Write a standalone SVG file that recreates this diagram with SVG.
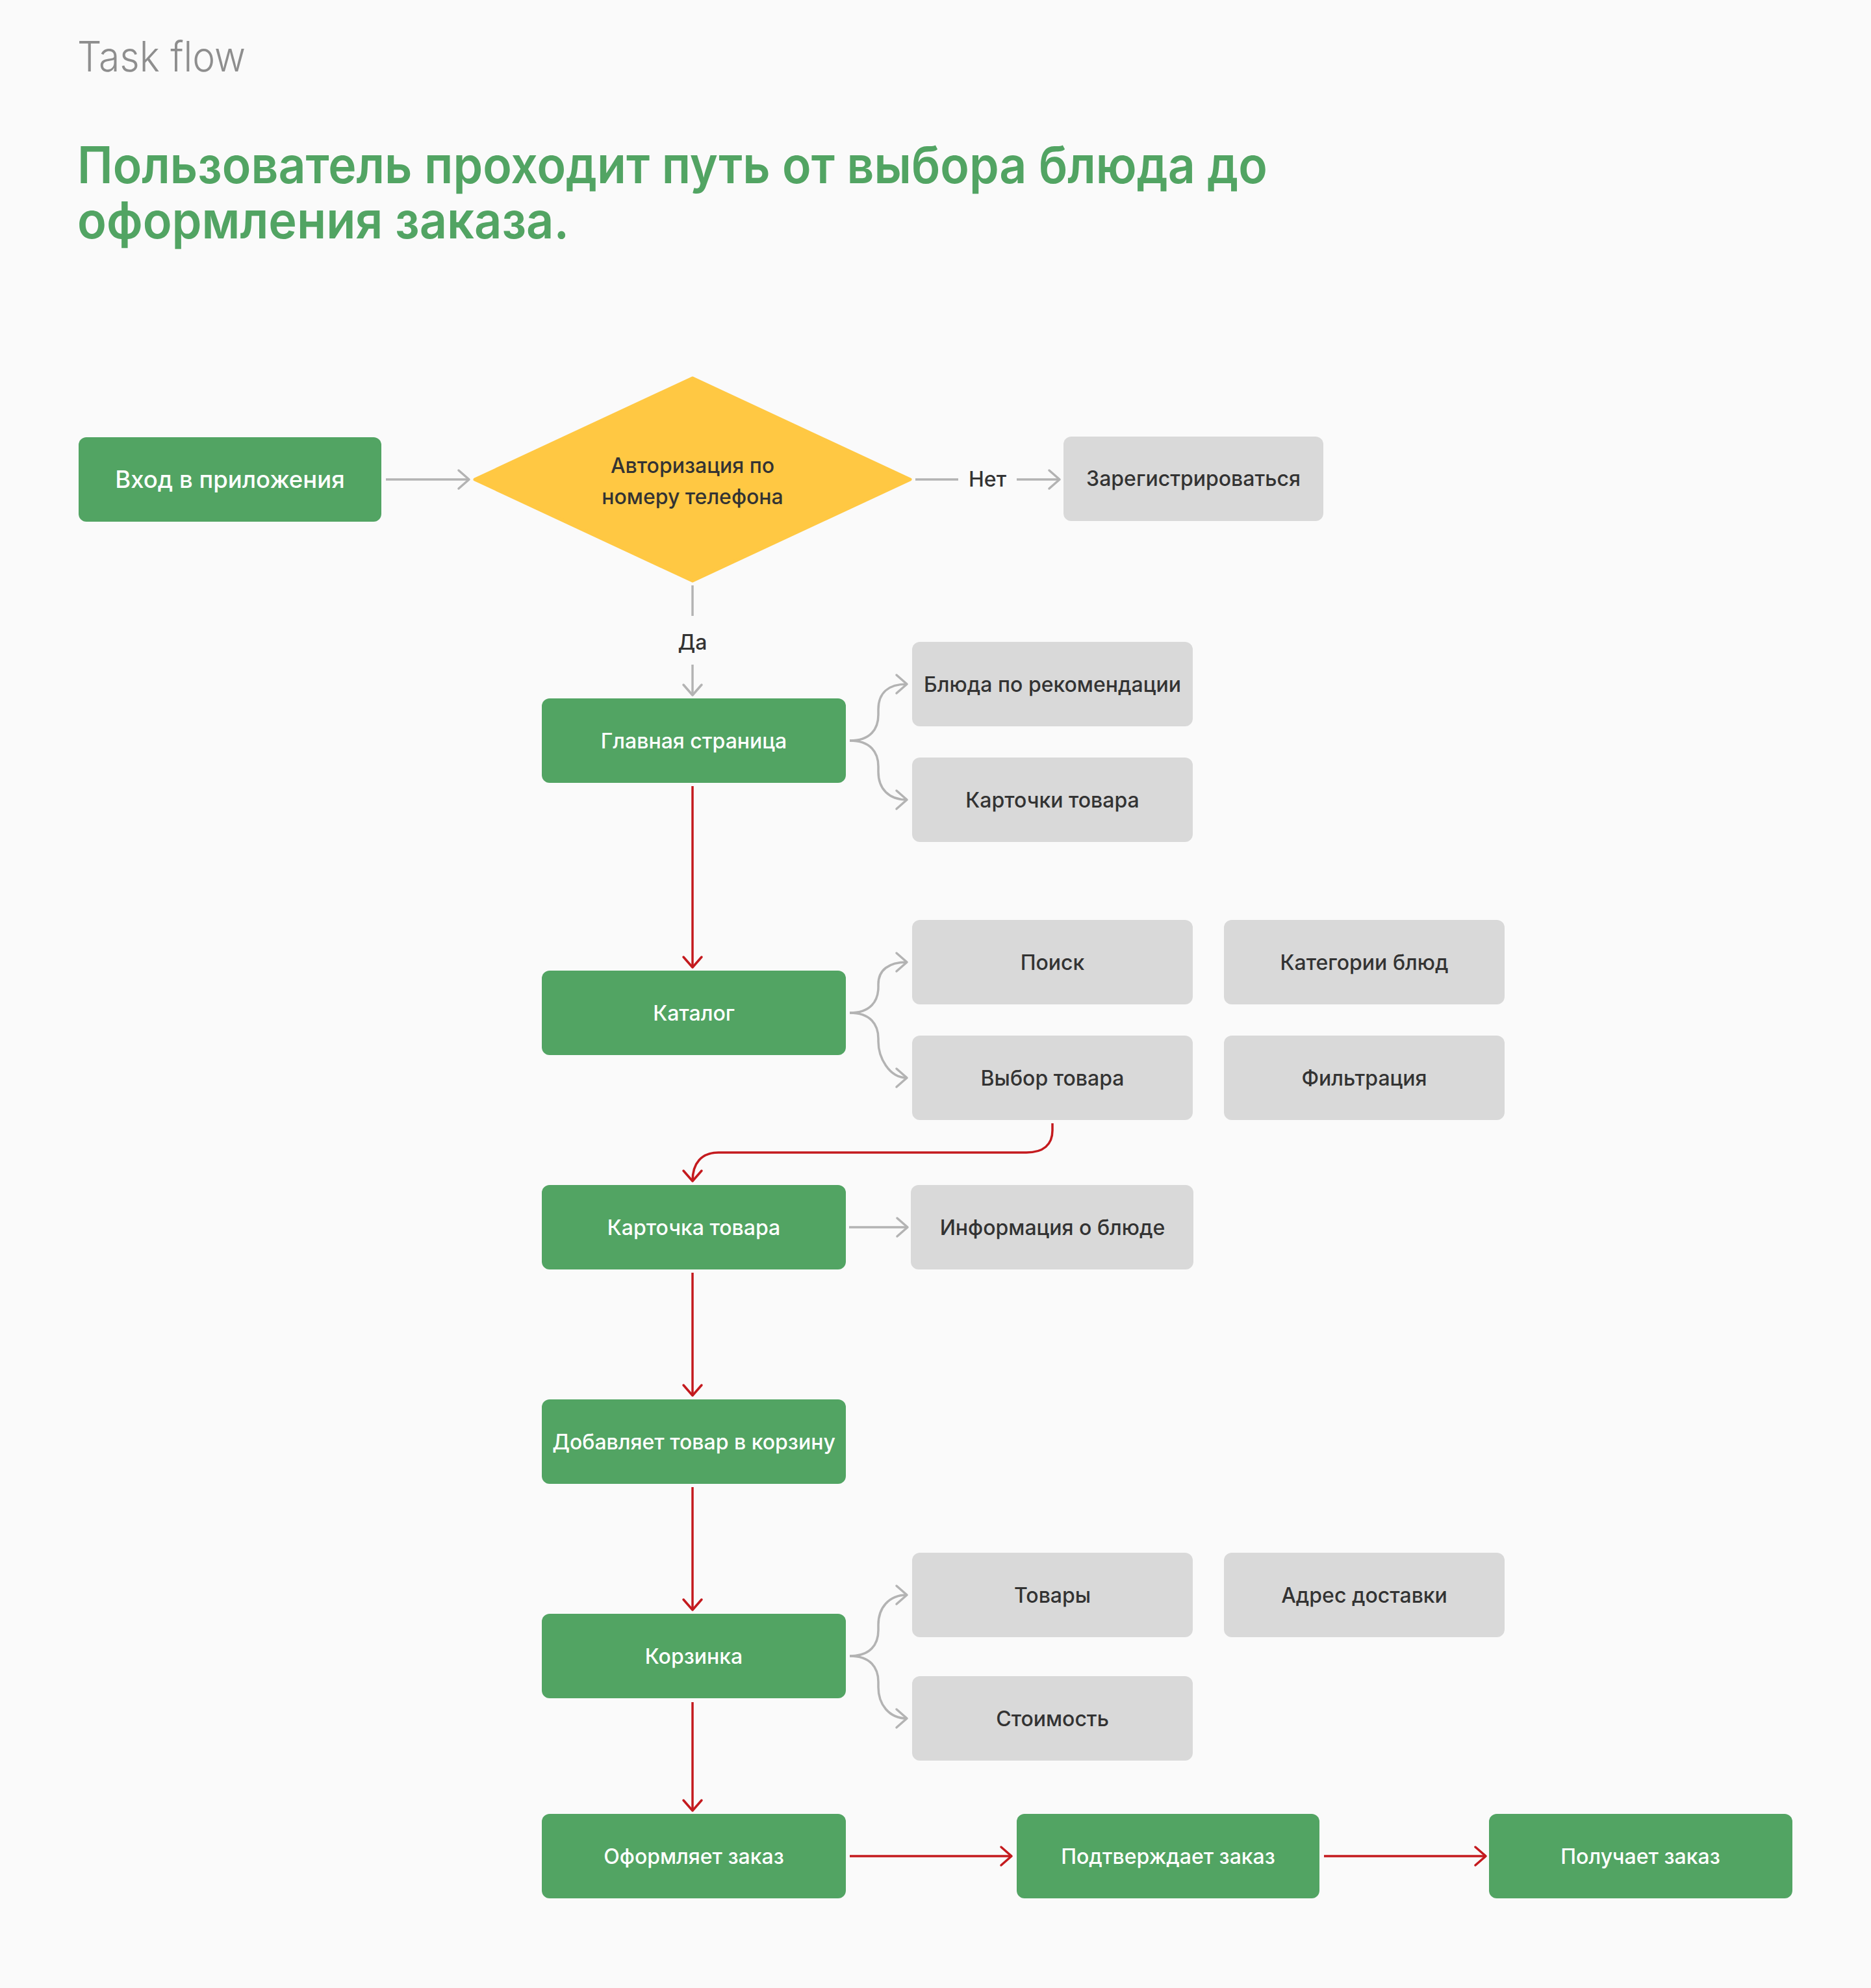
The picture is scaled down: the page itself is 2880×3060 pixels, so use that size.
<svg xmlns="http://www.w3.org/2000/svg" width="2880" height="3060" viewBox="0 0 2880 3060">
<defs>
<style>
.bg{fill:#FAFAFA}
.g rect{fill:#52A463}
.s rect{fill:#D9D9D9}
.t{font-family:Inter,"Noto Sans","Liberation Sans",sans-serif;font-size:32px;font-weight:500;text-anchor:middle}
.t.big{font-size:36.5px}
.g text{fill:#FFFFFF}
.s text,.lbl{fill:#333333}
.cg{fill:none;stroke:#B3B3B3;stroke-width:3.5}
.cr{fill:none;stroke:#C41A1E;stroke-width:3.5}
</style>
<marker id="ag" markerUnits="userSpaceOnUse" viewBox="-20 -18 24 36" refX="0" refY="0" markerWidth="24" markerHeight="36" orient="auto" overflow="visible">
<path d="M-16,-14 L0,0 L-16,14" fill="none" stroke="#B3B3B3" stroke-width="3.5" stroke-linecap="round" stroke-linejoin="round"/>
</marker>
<marker id="ar" markerUnits="userSpaceOnUse" viewBox="-20 -18 24 36" refX="0" refY="0" markerWidth="24" markerHeight="36" orient="auto" overflow="visible">
<path d="M-16,-14 L0,0 L-16,14" fill="none" stroke="#C41A1E" stroke-width="3.5" stroke-linecap="round" stroke-linejoin="round"/>
</marker>
</defs>
<rect class="bg" x="0" y="0" width="2880" height="3060"/>

<g id="header">
<text x="119" y="110" font-family="Inter,'Noto Sans','Liberation Sans',sans-serif" font-size="64" font-weight="300" fill="#8E8E8E" textLength="259" lengthAdjust="spacingAndGlyphs">Task flow</text>
<text font-family="Inter,'Noto Sans','Liberation Sans',sans-serif" font-size="78" font-weight="600" fill="#52A463"><tspan x="119" y="282" textLength="1832" lengthAdjust="spacingAndGlyphs">Пользователь проходит путь от выбора блюда до</tspan><tspan x="119" y="367" textLength="757" lengthAdjust="spacingAndGlyphs">оформления заказа.</tspan></text>
</g>

<g id="connectors">
<path class="cg" d="M594 738 H722" marker-end="url(#ag)"/>
<path class="cg" d="M1409 738 H1475"/>
<path class="cg" d="M1565 738 H1631" marker-end="url(#ag)"/>
<path class="cg" d="M1066 901 V948"/>
<path class="cg" d="M1066 1023 V1070" marker-end="url(#ag)"/>
<path class="cg" d="M1308 1140 C1340 1140 1352 1122 1352 1100 V1092 C1352 1066 1368 1053 1396 1053" marker-end="url(#ag)"/>
<path class="cg" d="M1308 1140 C1340 1140 1352 1158 1352 1180 V1188 C1352 1214 1368 1231 1396 1231" marker-end="url(#ag)"/>
<path class="cr" d="M1066 1210 V1489" marker-end="url(#ar)"/>
<path class="cg" d="M1308 1559 C1340 1559 1352 1541 1352 1519 V1515 C1352 1493 1368 1481 1396 1481" marker-end="url(#ag)"/>
<path class="cg" d="M1308 1559 C1340 1559 1352 1577 1352 1599 V1603 C1352 1627 1368 1659 1396 1659" marker-end="url(#ag)"/>
<path class="cr" d="M1620 1729 V1740 C1620 1762 1606 1774 1580 1774 H1106 C1080 1774 1066 1790 1066 1818" marker-end="url(#ar)"/>
<path class="cg" d="M1307 1889 H1397" marker-end="url(#ag)"/>
<path class="cr" d="M1066 1959 V2148" marker-end="url(#ar)"/>
<path class="cr" d="M1066 2289 V2478" marker-end="url(#ar)"/>
<path class="cg" d="M1308 2549 C1340 2549 1352 2531 1352 2509 V2501 C1352 2475 1368 2455 1396 2455" marker-end="url(#ag)"/>
<path class="cg" d="M1308 2549 C1340 2549 1352 2567 1352 2589 V2597 C1352 2623 1368 2645 1396 2645" marker-end="url(#ag)"/>
<path class="cr" d="M1066 2620 V2787" marker-end="url(#ar)"/>
<path class="cr" d="M1308 2857 H1557" marker-end="url(#ar)"/>
<path class="cr" d="M2038 2857 H2287" marker-end="url(#ar)"/>
<text class="t lbl" x="1520" y="749">Нет</text>
<text class="t lbl" x="1066" y="1000">Да</text>
</g>

<g id="n-vhod" class="g"><rect x="121" y="673" width="466" height="130" rx="12"/><text class="t big" x="354" y="751">Вход в приложения</text></g>
<g id="n-auth">
<polygon points="1066,582 1401,738 1066,894 731,738" fill="#FFC843" stroke="#FFC843" stroke-width="5" stroke-linejoin="round"/>
<text class="t lbl" x="1066" y="728">Авторизация по</text>
<text class="t lbl" x="1066" y="776">номеру телефона</text>
</g>
<g id="n-reg" class="s"><rect x="1637" y="672" width="400" height="130" rx="12"/><text class="t" x="1837" y="748">Зарегистрироваться</text></g>
<g id="n-main" class="g"><rect x="834" y="1075" width="468" height="130" rx="12"/><text class="t" x="1068" y="1152">Главная страница</text></g>
<g id="n-rec" class="s"><rect x="1404" y="988" width="432" height="130" rx="12"/><text class="t" x="1620" y="1065">Блюда по рекомендации</text></g>
<g id="n-cards" class="s"><rect x="1404" y="1166" width="432" height="130" rx="12"/><text class="t" x="1620" y="1243">Карточки товара</text></g>
<g id="n-catalog" class="g"><rect x="834" y="1494" width="468" height="130" rx="12"/><text class="t" x="1068" y="1571">Каталог</text></g>
<g id="n-search" class="s"><rect x="1404" y="1416" width="432" height="130" rx="12"/><text class="t" x="1620" y="1493">Поиск</text></g>
<g id="n-cat" class="s"><rect x="1884" y="1416" width="432" height="130" rx="12"/><text class="t" x="2100" y="1493">Категории блюд</text></g>
<g id="n-choose" class="s"><rect x="1404" y="1594" width="432" height="130" rx="12"/><text class="t" x="1620" y="1671">Выбор товара</text></g>
<g id="n-filter" class="s"><rect x="1884" y="1594" width="432" height="130" rx="12"/><text class="t" x="2100" y="1671">Фильтрация</text></g>
<g id="n-card" class="g"><rect x="834" y="1824" width="468" height="130" rx="12"/><text class="t" x="1068" y="1901">Карточка товара</text></g>
<g id="n-info" class="s"><rect x="1402" y="1824" width="435" height="130" rx="12"/><text class="t" x="1620" y="1901">Информация о блюде</text></g>
<g id="n-add" class="g"><rect x="834" y="2154" width="468" height="130" rx="12"/><text class="t" x="1068" y="2231">Добавляет товар в корзину</text></g>
<g id="n-cart" class="g"><rect x="834" y="2484" width="468" height="130" rx="12"/><text class="t" x="1068" y="2561">Корзинка</text></g>
<g id="n-goods" class="s"><rect x="1404" y="2390" width="432" height="130" rx="12"/><text class="t" x="1620" y="2467">Товары</text></g>
<g id="n-addr" class="s"><rect x="1884" y="2390" width="432" height="130" rx="12"/><text class="t" x="2100" y="2467">Адрес доставки</text></g>
<g id="n-cost" class="s"><rect x="1404" y="2580" width="432" height="130" rx="12"/><text class="t" x="1620" y="2657">Стоимость</text></g>
<g id="n-order" class="g"><rect x="834" y="2792" width="468" height="130" rx="12"/><text class="t" x="1068" y="2869">Оформляет заказ</text></g>
<g id="n-confirm" class="g"><rect x="1565" y="2792" width="466" height="130" rx="12"/><text class="t" x="1798" y="2869">Подтверждает заказ</text></g>
<g id="n-get" class="g"><rect x="2292" y="2792" width="467" height="130" rx="12"/><text class="t" x="2525" y="2869">Получает заказ</text></g>
</svg>
